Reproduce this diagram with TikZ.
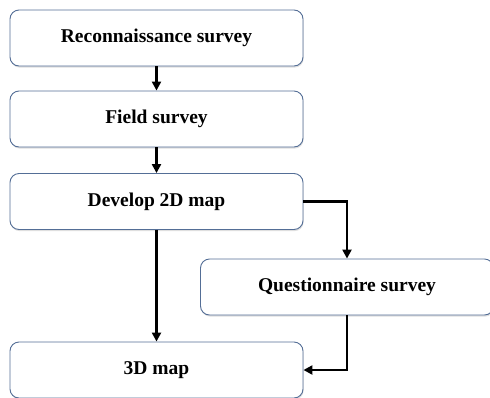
\documentclass[tikz,border=0pt]{standalone}
\usepackage{fontspec}
\setmainfont{Liberation Serif}
\usetikzlibrary{arrows.meta,shadows}
\definecolor{boxline}{RGB}{84,110,150}
\tikzset{
  stage/.style={draw=boxline, line width=0.9pt, rounded corners=9pt, fill=white,
    minimum width=293pt, minimum height=56pt,
    drop shadow={shadow xshift=0.6pt, shadow yshift=-1.6pt, opacity=0.25},
    font=\fontsize{19.5}{22}\selectfont\bfseries},
  flow/.style={-{Triangle[length=9pt,width=9pt]}, line width=2.8pt}
}
\begin{document}
\begin{tikzpicture}[x=1pt,y=-1pt]
\useasboundingbox (0,0) rectangle (490,397);
\node[stage] (recon) at (156.5,38) {Reconnaissance survey};
\node[stage] (field) at (156.5,119) {Field survey};
\node[stage] (develop) at (156.5,201.5) {Develop 2D map};
\node[stage] (quest) at (347,287) {Questionnaire survey};
\node[stage] (map3d) at (156.5,370) {3D map};
\draw[flow] (recon) -- (field);
\draw[flow] (field) -- (develop);
\draw[flow] (develop.east) -| (quest.north);
\draw[flow] (develop) -- (map3d);
\draw[flow] (quest.south) |- (map3d.east);
\end{tikzpicture}
\end{document}
